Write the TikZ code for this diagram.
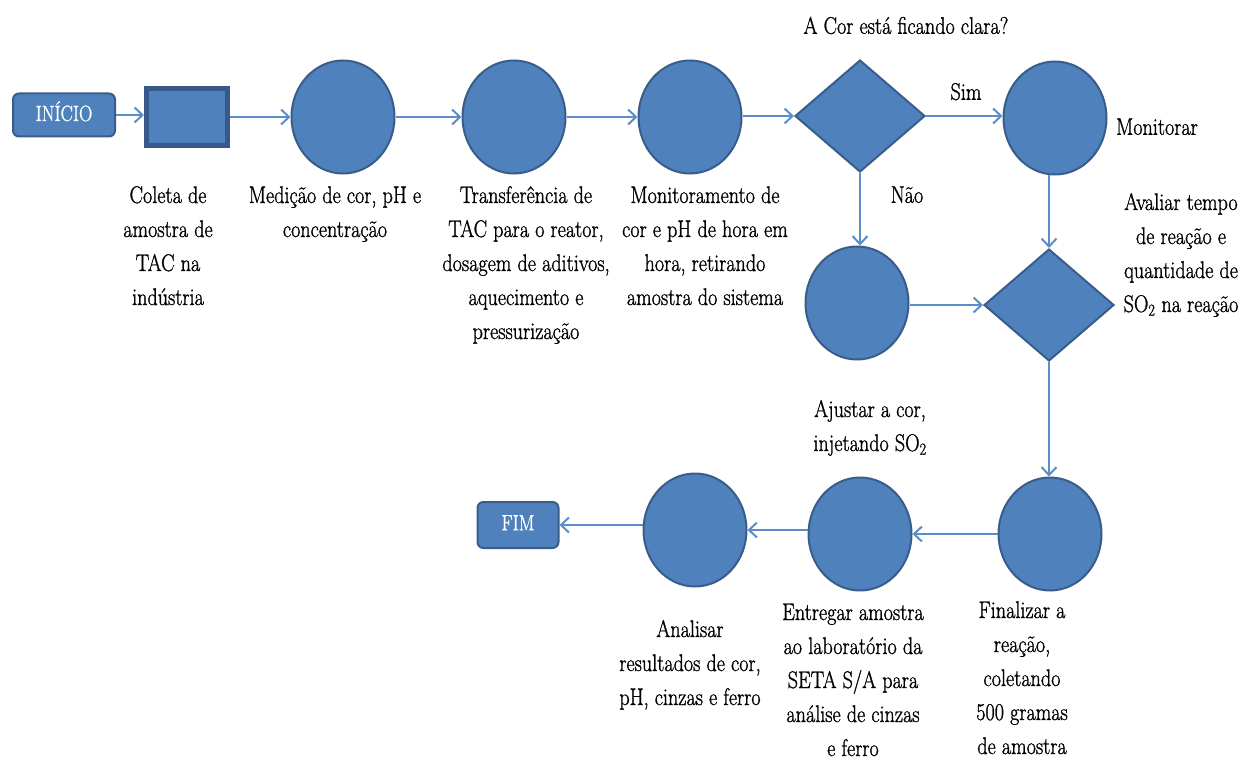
\documentclass[tikz,border=0pt]{standalone}
\usepackage{fontspec}
\usepackage{graphicx}
\setmainfont{Latin Modern Roman}[BoldFont={Latin Modern Roman}, BoldFeatures={FakeBold=1.2}]
\usetikzlibrary{shapes.geometric,arrows.meta}
\definecolor{bfill}{HTML}{4F81BD}
\definecolor{bdraw}{HTML}{385D8A}
\definecolor{bdraw2}{HTML}{36598A}
\definecolor{barrow}{HTML}{5B8DC9}
\newcommand\cz[1]{\scalebox{0.84}[1]{\begin{tabular}{@{}c@{}}#1\end{tabular}}}
\begin{document}
\begin{tikzpicture}[x=1pt,y=-1pt,
  circ/.style={ellipse, fill=bfill, draw=bdraw, line width=2pt, minimum width=103pt, minimum height=113pt, inner sep=0pt},
  dia/.style={diamond, fill=bfill, draw=bdraw, line width=2pt, minimum width=130pt, minimum height=112pt, inner sep=0pt},
  term/.style={rectangle, rounded corners=6pt, fill=bfill, draw=bdraw, line width=2pt, text=white, font=\rmfamily\bfseries\fontsize{22}{26}\selectfont, inner sep=0pt},
  boxnode/.style={rectangle, fill=bfill, draw=bdraw2, line width=5pt, minimum width=81pt, minimum height=57pt},
  lbl/.style={font=\rmfamily\bfseries\fontsize{24}{34}\selectfont, inner sep=0pt},
  arr/.style={draw=barrow, line width=2pt, -{Straight Barb[length=8pt,width=15pt]}}
]
\useasboundingbox (0,0) rectangle (1245,762);

% shapes
\node[term, minimum width=102pt, minimum height=43pt] (ini) at (64,115) {\cz{INÍCIO}};
\node[boxnode] (r1) at (187,117) {};
\node[circ] (c1) at (343,117) {};
\node[circ] (c2) at (514,117) {};
\node[circ] (c3) at (690,117) {};
\node[dia] (d1) at (860,116) {};
\node[circ] (c4) at (1055,118) {};
\node[circ] (c5) at (857,303) {};
\node[dia] (d2) at (1049,305) {};
\node[circ] (c6) at (1050,534) {};
\node[circ] (c7) at (860,534) {};
\node[circ] (c8) at (695,530) {};
\node[term, minimum width=81pt, minimum height=46pt] (fim) at (518,525) {\cz{FIM}};

% connectors
\draw[arr] (ini.east) -- (ini.east -| r1.west);
\draw[arr] (r1.east) -- (r1.east -| c1.west);
\draw[arr] (c1.east) -- (c2.west);
\draw[arr] (c2.east) -- (c3.west);
\draw[arr] (c3.east |- d1.west) -- (d1.west);
\draw[arr] (d1.east) -- (d1.east -| c4.west);
\draw[arr] (d1.south) -- (d1.south |- c5.north);
\draw[arr] (d2.north |- c4.south) -- (d2.north);
\draw[arr] (c5.east |- d2.west) -- (d2.west);
\draw[arr] (d2.south) -- (d2.south |- c6.north);
\draw[arr] (c6.west) -- (c7.east);
\draw[arr] (c7.west |- c8.east) -- (c8.east);
\draw[arr] (c8.west |- fim.east) -- (fim.east);

% labels
\node[lbl, anchor=north] (t1) at (168,179) {\cz{Coleta de\\amostra de\\TAC na\\indústria}};
\node[lbl, anchor=north] (t2) at (335,179) {\cz{Medição de cor, pH e\\concentração}};
\node[lbl, anchor=north] (t3) at (526,179) {\cz{Transferência de\\TAC para o reator,\\dosagem de aditivos,\\aquecimento e\\pressurização}};
\node[lbl, anchor=north] (t4) at (705,179) {\cz{Monitoramento de\\cor e pH de hora em\\hora, retirando\\amostra do sistema}};
\node[lbl] (q) at (906,27) {\cz{A Cor está ficando clara?}};
\node[lbl] (sim) at (966,93) {\cz{Sim}};
\node[lbl] (nao) at (907,196) {\cz{Não}};
\node[lbl] (mon) at (1157,128) {\cz{Monitorar}};
\node[lbl, anchor=north] (t5) at (1181,186) {\cz{Avaliar tempo\\de reação e\\quantidade de\\SO\textsubscript{2} na reação}};
\node[lbl, anchor=north] (t6) at (870,393) {\cz{Ajustar a cor,\\injetando SO\textsubscript{2}}};
\node[lbl, anchor=north] (t7) at (1022,594) {\cz{Finalizar a\\reação,\\coletando\\500 gramas\\de amostra}};
\node[lbl, anchor=north] (t8) at (853,596) {\cz{Entregar amostra\\ao laboratório da\\SETA S/A para\\análise de cinzas\\e ferro}};
\node[lbl, anchor=north] (t9) at (690,613) {\cz{Analisar\\resultados de cor,\\pH, cinzas e ferro}};
\end{tikzpicture}
\end{document}
